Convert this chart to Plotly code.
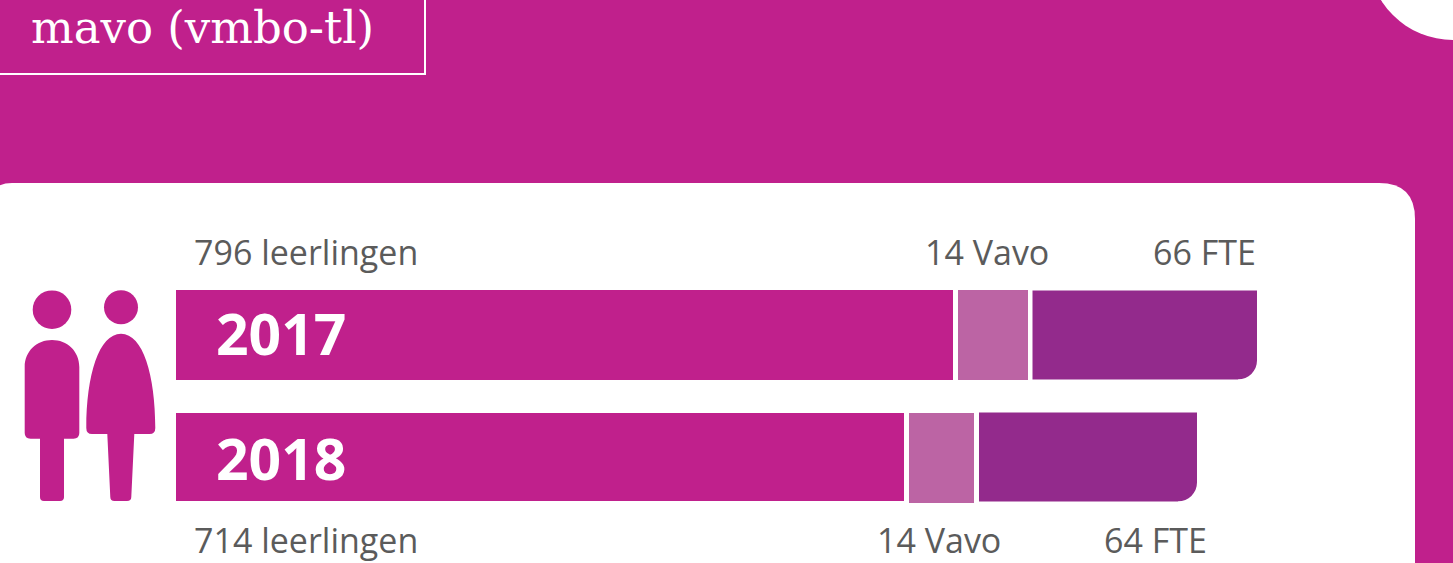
import plotly.graph_objects as go

years = [2017, 2018]
# label values
leerlingen = [796, 714]
vavo = [14, 14]
fte = [66, 64]
# drawn segment lengths
len_leerlingen = [777, 728]
len_vavo = [70, 65]
len_fte = [224.5, 218]
gap1 = [5, 5]
gap2 = [4.5, 5]
title_text = "mavo (vmbo-tl)"

W, H = 1453, 563
MAGENTA = "#C0208C"
VAVO = "#BC64A4"
FTE = "#932A8C"
TXT = "#5B5B5B"
X0 = 176
def px(v): return v / W
def py(v): return 1 - v / H
def yv(p): return 2017 + (p - 335) / 122

base_vavo = [l + g for l, g in zip(len_leerlingen, gap1)]
base_fte = [b + l + g for b, l, g in zip(base_vavo, len_vavo, gap2)]

fig = go.Figure()
bar = dict(orientation="h", hoverinfo="skip", showlegend=False)
fig.add_bar(y=years, x=len_leerlingen, width=[90 / 122, 88 / 122], marker=dict(color=MAGENTA, line_width=0), **bar)
fig.add_bar(y=years, x=len_vavo, base=base_vavo, width=[90 / 122, 90 / 122], offset=[-45 / 122, -44 / 122],
            marker=dict(color=VAVO, line_width=0), **bar)
fig.add_bar(y=years, x=len_fte, base=base_fte, width=[89 / 122, 89 / 122], marker=dict(color=FTE, line_width=0), **bar)
fig.update_layout(barmode="overlay")

shapes = []
def pshape(path, color=MAGENTA, layer="above"):
    shapes.append(dict(type="path", path=path, xref="paper", yref="paper",
                       fillcolor=color, line_width=0, layer=layer))
def P(x, y): return f"{px(x):.5f},{py(y):.5f}"

# white card
r1, r2 = 22, 36
card = (f"M{P(-10,583)} L{P(-10,183+r1)} Q{P(-10,183)} {P(-10+r1,183)} L{P(1415-r2,183)} "
        f"Q{P(1415,183)} {P(1415,183+r2)} L{P(1415,583)} Z")
pshape(card, "white", "below")
# top-right white circle
shapes.append(dict(type="circle", xref="paper", yref="paper", x0=px(1453 - 85), x1=px(1453 + 85),
                   y0=py(-45 + 85), y1=py(-45 - 85), fillcolor="white", line_width=0, layer="below"))
# title box
shapes.append(dict(type="rect", xref="paper", yref="paper", x0=px(-10), x1=px(425), y0=py(-10), y1=py(74),
                   line=dict(color="white", width=2), fillcolor="rgba(0,0,0,0)", layer="below"))

# rounded lower-right corners of the FTE bars (white mask in axis units)
R = 19
K = 0.45
for yr, b, l, w in zip(years, base_fte, len_fte, [89 / 122, 89 / 122]):
    xe = b + l
    ye = yr + w / 2
    rY = R / 122
    shapes.append(dict(type="path", xref="x", yref="y", fillcolor="white", line_width=0, layer="above",
                       path=(f"M{xe + 1},{ye + 0.01} L{xe - R},{ye + 0.01} L{xe - R},{ye} "
                             f"C{xe - R * K},{ye} {xe},{ye - rY * K} {xe},{ye - rY} L{xe + 1},{ye - rY} Z")))

# people icon
def circle(cx, cy, r):
    shapes.append(dict(type="circle", xref="paper", yref="paper", x0=px(cx - r), x1=px(cx + r),
                       y0=py(cy + r), y1=py(cy - r), fillcolor=MAGENTA, line_width=0))
circle(52, 309.7, 19.3)
circle(121, 307.3, 17)
pshape(f"M{P(24.7,367)} C{P(24.7,351)} {P(37,340)} {P(52,340)} C{P(67,340)} {P(79.3,351)} {P(79.3,367)} L{P(79.3,433)} Q{P(79.3,438.7)} {P(73.5,438.7)} "
       f"L{P(64,438.7)} L{P(64,497)} Q{P(64,501)} {P(60,501)} L{P(44,501)} Q{P(40,501)} {P(40,497)} L{P(40,438.7)} "
       f"L{P(30.5,438.7)} Q{P(24.7,438.7)} {P(24.7,433)} Z")
pshape(f"M{P(121,333.7)} C{P(143,333.7)} {P(155.3,375)} {P(155.3,428)} Q{P(155.3,434)} {P(149.5,434)} L{P(134.3,434)} "
       f"L{P(131.3,497)} Q{P(131.3,501)} {P(127,501)} L{P(114.5,501)} Q{P(110.3,501)} {P(110.3,497)} L{P(107.3,434)} "
       f"L{P(92,434)} Q{P(86.3,434)} {P(86.3,428)} C{P(86.3,375)} {P(99,333.7)} {P(121,333.7)} Z")

ann = []
def label(text, x, y, size=34, color=TXT, family="Open Sans", bold=False, anchor="left"):
    ann.append(dict(text=f"<b>{text}</b>" if bold else text, xref="paper", yref="paper", x=px(x), y=py(y),
                    xanchor=anchor, yanchor="middle", showarrow=False,
                    font=dict(family=family, size=size, color=color)))
label(title_text, 29, 27, size=45, color="white", family="DejaVu Serif")
ypos = [252, 540]
xpos = [(192, 923, 1258), (192, 875, 1209)]
for i in range(2):
    label(f"{leerlingen[i]} leerlingen", xpos[i][0], ypos[i])
    label(f"{vavo[i]} Vavo", xpos[i][1], ypos[i])
    label(f"{fte[i]} FTE", xpos[i][2], ypos[i], anchor="right")
    label(str(years[i]), 214, [333, 458][i], size=57, color="white", bold=True)

fig.update_layout(
    width=W, height=H, margin=dict(l=0, r=0, t=0, b=0, pad=0),
    paper_bgcolor=MAGENTA, plot_bgcolor="rgba(0,0,0,0)",
    xaxis=dict(range=[-X0, W - X0], visible=False, fixedrange=True),
    yaxis=dict(range=[yv(563), yv(0)], visible=False, fixedrange=True),
    shapes=shapes, annotations=ann,
)
fig.write_html("out.html", config={"displayModeBar": False},
               post_script="document.body.style.margin='0';document.body.style.overflow='hidden';")
